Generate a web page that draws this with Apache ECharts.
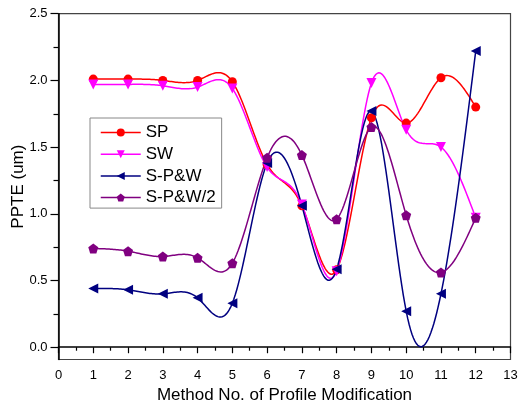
<!DOCTYPE html>
<html><head><meta charset="utf-8">
<script src="https://cdn.jsdelivr.net/npm/echarts@6/dist/echarts.min.js"></script>
<style>html,body{margin:0;padding:0;background:#fff}#c{width:522px;height:406px}</style>
</head><body><div id="c"></div>
<script>
const methods = [1,2,3,4,5,6,7,8,9,10,11,12];
const SP   = [2.01,2.01,2.00,2.00,1.99,1.37,1.06,0.58,1.72,1.68,2.02,1.80];
const SW   = [1.97,1.97,1.96,1.95,1.94,1.35,1.07,0.57,1.98,1.63,1.50,0.97];
const SPW  = [0.44,0.43,0.40,0.37,0.33,1.38,1.06,0.585,1.77,0.27,0.40,2.22];
const SPW2 = [0.74,0.72,0.68,0.67,0.63,1.42,1.44,0.96,1.65,0.99,0.56,0.97];
const yLabelValues = [0,0.5,1.0,1.5,2.0,2.5];
const yMinorValues = [0.25,0.75,1.25,1.75,2.25];
const seriesNames = ['SP','SW','S-P&W','S-P&W/2'];

const FONT = 'Liberation Sans, Arial, sans-serif';
const pentagon = 'path://M0,-10 L9.51,-3.09 L5.88,8.09 L-5.88,8.09 L-9.51,-3.09 Z';

// natural cubic spline second derivatives
function splineM(xs, ys){
  const n = xs.length, M = new Array(n).fill(0);
  if (n < 3) return M;
  const a=[],b=[],c=[],d=[];
  for (let i=1;i<n-1;i++){
    const h0 = xs[i]-xs[i-1], h1 = xs[i+1]-xs[i];
    a.push(h0); b.push(2*(h0+h1)); c.push(h1);
    d.push(6*((ys[i+1]-ys[i])/h1 - (ys[i]-ys[i-1])/h0));
  }
  const m = b.length;
  for (let i=1;i<m;i++){ const w=a[i]/b[i-1]; b[i]-=w*c[i-1]; d[i]-=w*d[i-1]; }
  const s = new Array(m);
  s[m-1]=d[m-1]/b[m-1];
  for (let i=m-2;i>=0;i--) s[i]=(d[i]-c[i]*s[i+1])/b[i];
  for (let i=0;i<m;i++) M[i+1]=s[i];
  return M;
}

function curveSeries(vals, color){
  const M = splineM(methods, vals);
  return {
    type:'custom', silent:true, z:2,
    data: methods.map((x,i)=>[x, vals[i]]),
    encode:{x:0,y:1},
    renderItem: function(params, api){
      const i = params.dataIndex;
      if (i >= methods.length-1) return null;
      const x0 = methods[i], x1 = methods[i+1], h = x1-x0;
      const pts = [];
      const N = 24;
      for (let k=0;k<=N;k++){
        const x = x0 + h*k/N;
        const A = (x1-x)/h, B = (x-x0)/h;
        const y = A*vals[i] + B*vals[i+1] + ((A*A*A-A)*M[i] + (B*B*B-B)*M[i+1])*h*h/6;
        pts.push(api.coord([x,y]));
      }
      return {type:'polyline', shape:{points:pts}, style:{stroke:color, lineWidth:1.5, fill:null}};
    }
  };
}

function markSeries(name, vals, color, symbol, rotate, size){
  return {
    name, type:'line', z:3,
    data: methods.map((x,i)=>[x, vals[i]]),
    symbol, symbolRotate: rotate, symbolSize: size, showSymbol:true,
    itemStyle:{color}, lineStyle:{width:0, color},
    animation:false
  };
}

const colors = ['#FF0000','#FF00FF','#000080','#800080'];
const chart = echarts.init(document.getElementById('c'), null, {renderer:'canvas'});
chart.setOption({
  animation:false,
  textStyle:{fontFamily:FONT},
  grid:{left:58.5, right:11.5, top:13.7, bottom:46.5, show:true, borderColor:'#444', borderWidth:1.2,
        containLabel:false, outerBoundsMode:'none'},
  legend:{
    orient:'vertical', left:90, top:118, padding:[6,6,2,10], itemGap:4.7,
    itemWidth:40, itemHeight:10, borderColor:'#888', borderWidth:1,
    textStyle:{fontSize:17, color:'#000', fontFamily:FONT},
    lineStyle:{width:1.5, opacity:1},
    data: seriesNames
  },
  xAxis:{
    type:'value', min:0, max:13, interval:1,
    name:'Method No. of Profile Modification', nameLocation:'middle', nameGap:27, nameMoveOverlap:false,
    nameTextStyle:{fontSize:17, color:'#000', fontFamily:FONT},
    axisLine:{show:true, lineStyle:{color:'#000', width:1.5}},
    axisTick:{show:true, inside:false, length:6, lineStyle:{color:'#000', width:1.2}},
    minorTick:{show:true, splitNumber:2, length:3.5, lineStyle:{color:'#000', width:1.2}},
    axisLabel:{fontSize:13, color:'#000', margin:9, fontFamily:FONT},
    splitLine:{show:false}, minorSplitLine:{show:false}
  },
  yAxis:[{
    type:'value', min:-0.092, max:2.5,
    name:'PPTE (um)', nameLocation:'middle', nameGap:32, nameRotate:90, nameMoveOverlap:false,
    nameTextStyle:{fontSize:17, color:'#000', fontFamily:FONT},
    axisLine:{show:true, lineStyle:{color:'#000', width:1.5}},
    axisTick:{show:true, inside:false, length:8, customValues:yLabelValues, lineStyle:{color:'#000', width:1.2}},
    axisLabel:{fontSize:13, color:'#000', margin:11, customValues:yLabelValues, fontFamily:FONT,
      formatter:v=>v.toFixed(1)},
    splitLine:{show:false}
  },{
    type:'value', min:-0.092, max:2.5, position:'left', offset:0,
    axisLine:{show:false},
    axisTick:{show:true, inside:false, length:5, customValues:yMinorValues, lineStyle:{color:'#000', width:1.2}},
    axisLabel:{show:false, customValues:yMinorValues},
    splitLine:{show:false}
  }],
  series:[
    curveSeries(SP, colors[0]),
    curveSeries(SW, colors[1]),
    curveSeries(SPW, colors[2]),
    curveSeries(SPW2, colors[3]),
    markSeries('SP', SP, colors[0], 'circle', 0, 9),
    markSeries('SW', SW, colors[1], 'triangle', 180, 10),
    markSeries('S-P&W', SPW, colors[2], 'triangle', 90, 10),
    markSeries('S-P&W/2', SPW2, colors[3], pentagon, 0, 10)
  ]
});
</script></body></html>
